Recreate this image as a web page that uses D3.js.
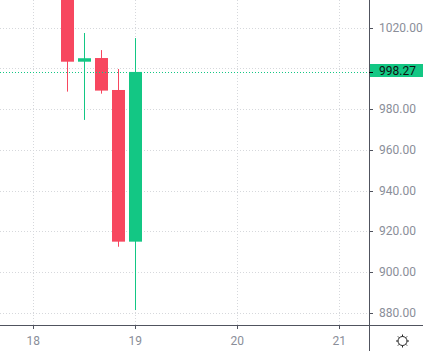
<!DOCTYPE html>
<html>
<head>
<meta charset="utf-8">
<script src="https://cdn.jsdelivr.net/npm/d3@7"></script>
<style>
  html, body { margin: 0; padding: 0; background: #fff; }
  svg { display: block; font-family: Roboto, "DejaVu Sans", sans-serif; }
</style>
</head>
<body>
<div id="chart"></div>
<script>
// candle data (4h bars)
const times = ["2021-03-18T08:00Z", "2021-03-18T12:00Z", "2021-03-18T16:00Z", "2021-03-18T20:00Z", "2021-03-19T00:00Z"];
const opens = [1046.0, 1003.3, 1005.1, 989.4, 914.9];
const highs = [1052.0, 1017.4, 1009.0, 999.7, 1014.9];
const lows = [988.6, 974.7, 987.6, 912.4, 881.3];
const closes = [1003.3, 1005.0, 989.1, 914.9, 998.27];

const priceTicks = [880, 900, 920, 940, 960, 980, 1000, 1020];
const dayTicks = ["2021-03-18T00:00Z", "2021-03-19T00:00Z", "2021-03-20T00:00Z", "2021-03-21T00:00Z"];
const lastPrice = 998.27;

const W = 423, H = 351;
const plotW = 369, plotH = 325;
const upColor = "#13c784", downColor = "#f7475f";
const gridColor = "#d6d8dc", axisColor = "#50535e", textColor = "#8a8e99";

const data = times.map((t, i) => ({
    date: new Date(t), open: opens[i], high: highs[i], low: lows[i], close: closes[i]
}));

const svg = d3.select("#chart").append("svg")
    .attr("width", W)
    .attr("height", H);

const x = d3.scaleUtc()
    .domain([new Date(dayTicks[0]), new Date(dayTicks[3])])
    .range([33.3, 339.3]);

const y = d3.scaleLinear()
    .domain([880, 1020])
    .range([312.7, 27.7]);

svg.append("clipPath").attr("id", "plot-clip")
    .append("rect").attr("width", plotW).attr("height", plotH);

const plot = svg.append("g").attr("clip-path", "url(#plot-clip)");

// grid
plot.selectAll(".hgrid")
    .data(priceTicks)
    .enter().append("line")
    .attr("x1", 0).attr("x2", plotW)
    .attr("y1", d => Math.round(y(d)) + 0.5)
    .attr("y2", d => Math.round(y(d)) + 0.5)
    .attr("stroke", gridColor)
    .attr("stroke-dasharray", "1,2");

plot.selectAll(".vgrid")
    .data(dayTicks)
    .enter().append("line")
    .attr("x1", d => Math.round(x(new Date(d))) + 0.5)
    .attr("x2", d => Math.round(x(new Date(d))) + 0.5)
    .attr("y1", 0).attr("y2", plotH)
    .attr("stroke", gridColor)
    .attr("stroke-dasharray", "1,2");

// candles
const bodyW = 13;
const candles = plot.selectAll(".candle")
    .data(data)
    .enter().append("g")
    .attr("class", "candle");

candles.append("line")
    .attr("x1", d => Math.round(x(d.date)) + 0.5)
    .attr("x2", d => Math.round(x(d.date)) + 0.5)
    .attr("y1", d => y(d.high))
    .attr("y2", d => y(d.low))
    .attr("stroke", d => d.close >= d.open ? upColor : downColor)
    .attr("stroke-width", 1);

candles.append("rect")
    .attr("x", d => Math.round(x(d.date)) - 6)
    .attr("width", bodyW)
    .attr("y", d => y(Math.max(d.open, d.close)))
    .attr("height", d => Math.max(1, y(Math.min(d.open, d.close)) - y(Math.max(d.open, d.close))))
    .attr("fill", d => d.close >= d.open ? upColor : downColor);

// last price line
plot.append("line")
    .attr("x1", 0).attr("x2", plotW)
    .attr("y1", Math.round(y(lastPrice)) + 0.5)
    .attr("y2", Math.round(y(lastPrice)) + 0.5)
    .attr("stroke", upColor)
    .attr("stroke-dasharray", "1,2");

// price axis
const yAxis = svg.append("g");
yAxis.append("line")
    .attr("x1", plotW + 0.5).attr("x2", plotW + 0.5)
    .attr("y1", 0).attr("y2", H)
    .attr("stroke", axisColor);

const shownTicks = priceTicks.filter(d => Math.abs(y(d) - y(lastPrice)) > 10);
yAxis.selectAll(".ptick")
    .data(shownTicks)
    .enter().append("line")
    .attr("x1", plotW).attr("x2", plotW + 4)
    .attr("y1", d => Math.round(y(d)) + 0.5)
    .attr("y2", d => Math.round(y(d)) + 0.5)
    .attr("stroke", axisColor);

yAxis.selectAll(".plabel")
    .data(shownTicks)
    .enter().append("text")
    .attr("x", 379)
    .attr("y", d => y(d))
    .attr("dy", "0.35em")
    .attr("fill", textColor)
    .attr("font-size", 12)
    .text(d => d3.format(".2f")(d));

// last price badge
const ly = y(lastPrice);
yAxis.append("rect")
    .attr("x", plotW + 1).attr("y", Math.round(ly) - 8)
    .attr("width", W - plotW - 1).attr("height", 13)
    .attr("fill", upColor);
yAxis.append("line")
    .attr("x1", plotW).attr("x2", plotW + 4)
    .attr("y1", Math.round(ly) + 0.5).attr("y2", Math.round(ly) + 0.5)
    .attr("stroke", "#000");
yAxis.append("text")
    .attr("x", 379).attr("y", Math.round(ly) - 1.5)
    .attr("dy", "0.35em")
    .attr("fill", "#111")
    .attr("font-size", 12)
    .text(d3.format(".2f")(lastPrice));

// time axis
const xAxis = svg.append("g");
xAxis.append("line")
    .attr("x1", 0).attr("x2", W)
    .attr("y1", plotH + 0.5).attr("y2", plotH + 0.5)
    .attr("stroke", axisColor);

xAxis.selectAll(".ttick")
    .data(dayTicks)
    .enter().append("line")
    .attr("x1", d => Math.round(x(new Date(d))) + 0.5)
    .attr("x2", d => Math.round(x(new Date(d))) + 0.5)
    .attr("y1", plotH).attr("y2", plotH + 4)
    .attr("stroke", axisColor);

xAxis.selectAll(".tlabel")
    .data(dayTicks)
    .enter().append("text")
    .attr("x", d => x(new Date(d)))
    .attr("y", 341)
    .attr("dy", "0.35em")
    .attr("text-anchor", "middle")
    .attr("fill", textColor)
    .attr("font-size", 12)
    .text(d => d3.utcFormat("%-d")(new Date(d)));

// settings gear in the corner
const gear = svg.append("g").attr("transform", "translate(402.5,341)");
gear.append("circle").attr("r", 4.5)
    .attr("fill", "none").attr("stroke", "#222").attr("stroke-width", 1);
gear.selectAll(".spoke")
    .data(d3.range(8))
    .enter().append("line")
    .attr("x1", d => 4.5 * Math.cos(d * Math.PI / 4))
    .attr("y1", d => 4.5 * Math.sin(d * Math.PI / 4))
    .attr("x2", d => 6.5 * Math.cos(d * Math.PI / 4))
    .attr("y2", d => 6.5 * Math.sin(d * Math.PI / 4))
    .attr("stroke", "#222").attr("stroke-width", 1);
</script>
</body>
</html>
